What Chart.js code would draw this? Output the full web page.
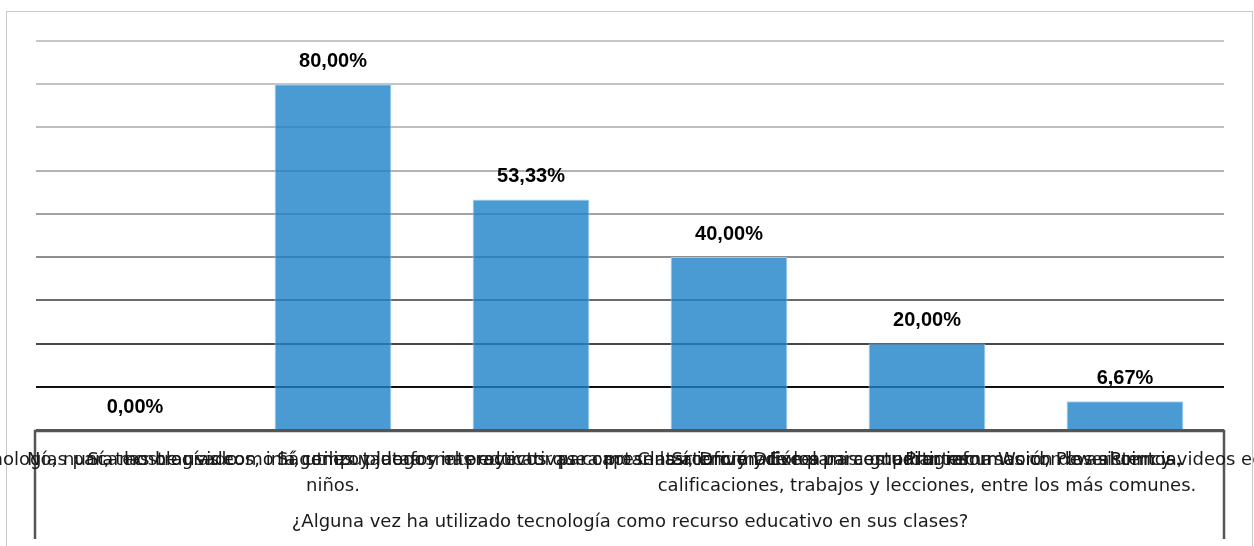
<!DOCTYPE html>
<html lang="es">
<head>
<meta charset="utf-8">
<title>¿Alguna vez ha utilizado tecnología como recurso educativo en sus clases?</title>
<script src="https://cdn.jsdelivr.net/npm/chart.js@4.4.1/dist/chart.umd.min.js"></script>
<style>
  html, body { margin: 0; padding: 0; background: #fff; }
  canvas { display: block; }
</style>
</head>
<body>
<canvas id="grafico" width="1254" height="546"></canvas>
<script>
// respuestas (cada una es una lista de líneas, como en la hoja original)
const respuestas = [
  ["No, nunca las he usado."],
  ["Sí, he usado tecnologías para mostrar videos, imágenes y juegos interactivos que captan la atención de los", "niños."],
  ["Sí, tecnologías como la computadora y el proyector para presentar información a mis estudiantes."],
  ["Sí, utilizo plataformas educativas como Classroom y Drive para compartir recursos con los alumnos."],
  ["Sí, Drive y Excel para guardar información de asistencia,", "calificaciones, trabajos y lecciones, entre los más comunes."],
  ["Programa Word, PowerPoint y videos educativos."]
];
const porcentajes = [0, 80, 53.33, 40, 20, 6.67];
const ejeMax = 90;
const ejePaso = 10;
const tituloEje = "¿Alguna vez ha utilizado tecnología como recurso educativo en sus clases?";

// estilos
const colorBarra = "rgba(29,129,201,0.8)";
const bordeBarra = "rgba(160,205,240,0.9)";
const coloresGrid = ["#555555", "#111111", "#474747", "#6b6b6b", "#8e8e8e", "#a3a3a3", "#b3b3b3", "#bdbdbd", "#c4c4c4", "#c8c8c8"];
const fuenteTexto = "'DejaVu Sans', 'Noto Sans', sans-serif";

function formatoPct(v) {
  return v.toFixed(2).replace(".", ",") + "%";
}

// marco, etiquetas de valores, categorías y título
const decoracion = {
  id: "decoracion",
  beforeDraw(chart) {
    const ctx = chart.ctx;
    ctx.save();
    ctx.fillStyle = "#fff";
    ctx.fillRect(0, 0, chart.width, chart.height);
    ctx.strokeStyle = "#c9c9c9";
    ctx.lineWidth = 1;
    ctx.strokeRect(6.5, 11.5, chart.width - 8, chart.height + 20);
    ctx.restore();
  },
  afterDatasetsDraw(chart) {
    const ctx = chart.ctx;
    const meta = chart.getDatasetMeta(0);
    const xScale = chart.scales.x;
    const area = chart.chartArea;
    ctx.save();

    // valores sobre las barras
    ctx.font = "bold 20px 'Liberation Sans', Arial, sans-serif";
    ctx.fillStyle = "#000";
    ctx.textAlign = "center";
    ctx.textBaseline = "middle";
    meta.data.forEach((bar, i) => {
      ctx.fillText(formatoPct(porcentajes[i]), bar.x, bar.y - 23);
    });

    // caja inferior (eje x)
    ctx.strokeStyle = "#555";
    ctx.lineWidth = 2.5;
    ctx.beginPath();
    ctx.moveTo(area.left - 1, 539);
    ctx.lineTo(area.left - 1, area.bottom + 1);
    ctx.lineTo(area.right, area.bottom + 1);
    ctx.lineTo(area.right, 539);
    ctx.stroke();

    // etiquetas de categorías (se superponen como en el original)
    ctx.font = "18px " + fuenteTexto;
    ctx.fillStyle = "#1a1a1a";
    ctx.textBaseline = "alphabetic";
    respuestas.forEach((lineas, i) => {
      const x = xScale.getPixelForValue(i);
      lineas.forEach((linea, j) => {
        ctx.fillText(linea, x, 465 + j * 26);
      });
    });

    // título del eje
    ctx.fillText(tituloEje, (area.left + area.right) / 2, 527);
    ctx.restore();
  }
};

new Chart(document.getElementById("grafico"), {
  type: "bar",
  data: {
    labels: respuestas,
    datasets: [{
      label: "Porcentaje",
      data: porcentajes,
      backgroundColor: colorBarra,
      borderColor: bordeBarra,
      borderWidth: 1,
      barPercentage: 0.59,
      categoryPercentage: 1
    }]
  },
  options: {
    responsive: false,
    animation: false,
    layout: { padding: { left: 36, right: 30, top: 41, bottom: 116 } },
    plugins: { legend: { display: false }, tooltip: { enabled: false } },
    scales: {
      x: { display: false },
      y: {
        min: 0,
        max: ejeMax,
        ticks: { display: false, stepSize: ejePaso },
        border: { display: false },
        grid: {
          drawTicks: false,
          lineWidth: 2,
          color: c => coloresGrid[c.index] || "#c8c8c8"
        }
      }
    }
  },
  plugins: [decoracion]
});
</script>
</body>
</html>
